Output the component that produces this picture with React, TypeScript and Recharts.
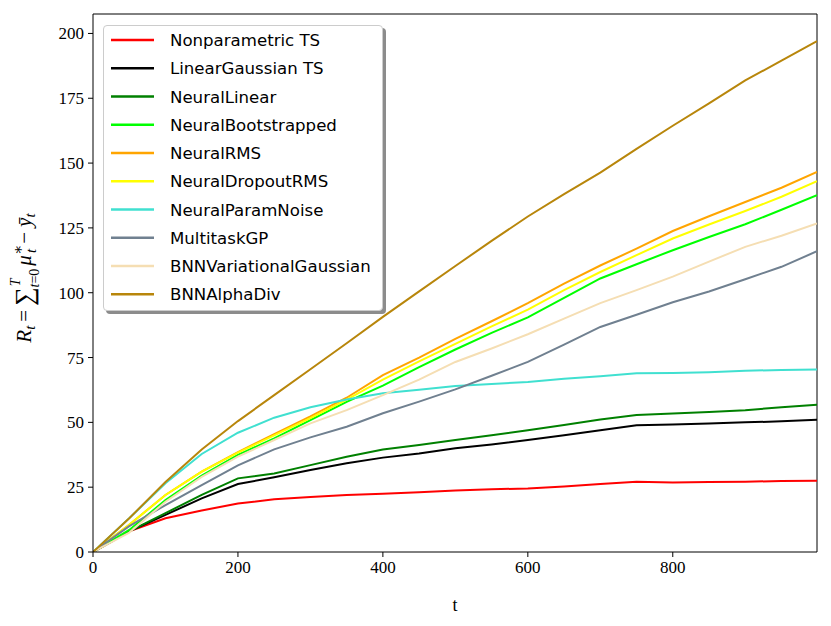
import React from "react";
import {
  LineChart,
  Line,
  XAxis,
  YAxis,
  ReferenceLine,
  Legend,
} from "recharts";

// time steps
const steps = [0, 50, 100, 150, 200, 250, 300, 350, 400, 450, 500, 550, 600, 650, 700, 750, 800, 850, 900, 950, 999];

const nonparametricTs = [0, 8, 13, 16, 18.7, 20.3, 21.2, 22, 22.5, 23, 23.7, 24.2, 24.5, 25.3, 26.2, 27.1, 26.8, 27, 27.1, 27.4, 27.5];
const linearGaussianTs = [0, 8, 14.3, 20.7, 26.2, 28.8, 31.6, 34.2, 36.4, 38, 40, 41.5, 43.2, 45, 47, 48.9, 49.2, 49.6, 50, 50.4, 51];
const neuralLinear = [0, 8, 15, 22, 28.4, 30.3, 33.5, 36.7, 39.5, 41.3, 43.2, 45, 47, 49, 51.1, 52.8, 53.4, 54, 54.7, 55.8, 56.8];
const neuralBootstrapped = [0, 8.5, 20, 29.5, 37.5, 43.8, 50.9, 57.9, 64.2, 71.3, 78.1, 84.5, 90.5, 98, 105.5, 111, 116.4, 121.5, 126.4, 132, 137.6];
const neuralRms = [0, 10.5, 22, 31, 38.5, 45.5, 52.3, 59.5, 68.2, 75, 82.2, 89, 96, 103.5, 110.5, 117, 123.8, 129.5, 135, 140.5, 146.6];
const neuralDropoutRms = [0, 10.5, 22, 31, 38.3, 45, 51.6, 58.8, 66.5, 73.5, 80.3, 87, 93.5, 101, 108, 114.5, 120.9, 126.3, 131.5, 137, 143];
const neuralParamNoise = [0, 13, 26.5, 37.8, 46, 51.8, 55.8, 58.8, 61.2, 62.6, 64, 64.8, 65.6, 66.8, 67.8, 68.9, 69, 69.3, 69.9, 70.2, 70.4];
const multitaskGp = [0, 10, 18.1, 25.8, 33.4, 39.6, 44.2, 48.3, 53.5, 58, 62.7, 68, 73.3, 80, 86.8, 91.5, 96.3, 100.5, 105.2, 110, 116];
const bnnVariationalGaussian = [0, 7.5, 19.4, 29, 36.8, 43.2, 49.6, 54.7, 60.5, 66.5, 73.3, 78.5, 84, 90, 96, 101, 106.2, 112, 117.7, 122, 126.7];
const bnnAlphaDiv = [0, 13, 27, 39.5, 50.5, 60.5, 70.5, 80.5, 90.7, 100.5, 110.3, 120, 129.4, 138, 146.3, 155.5, 164.4, 173, 181.9, 189.5, 197];

const xTicks = [0, 200, 400, 600, 800];
const yTicks = [0, 25, 50, 75, 100, 125, 150, 175, 200];

const series = [
  { key: "np", name: "Nonparametric TS", color: "#ff0000", values: nonparametricTs },
  { key: "lg", name: "LinearGaussian TS", color: "#000000", values: linearGaussianTs },
  { key: "nl", name: "NeuralLinear", color: "#008000", values: neuralLinear },
  { key: "nb", name: "NeuralBootstrapped", color: "#00ff00", values: neuralBootstrapped },
  { key: "rms", name: "NeuralRMS", color: "#ffa500", values: neuralRms },
  { key: "drms", name: "NeuralDropoutRMS", color: "#ffff00", values: neuralDropoutRms },
  { key: "pn", name: "NeuralParamNoise", color: "#40e0d0", values: neuralParamNoise },
  { key: "gp", name: "MultitaskGP", color: "#708090", values: multitaskGp },
  { key: "vg", name: "BNNVariationalGaussian", color: "#f5deb3", values: bnnVariationalGaussian },
  { key: "ad", name: "BNNAlphaDiv", color: "#b8860b", values: bnnAlphaDiv },
];

const rows = steps.map((t, i) => {
  const row: Record<string, number> = { t };
  series.forEach((s) => {
    row[s.key] = s.values[i];
  });
  return row;
});

const serif = "'Liberation Serif', 'DejaVu Serif', serif";
const tickStyle = { fontSize: 17, fill: "#000", fontFamily: serif };

function LegendBox() {
  return (
    <div
      style={{
        width: 280,
        height: 286,
        boxSizing: "border-box",
        background: "#fff",
        border: "1px solid #cccccc",
        borderRadius: 4,
        boxShadow: "3px 3px 0 #8c8c8c",
        paddingTop: 0,
      }}
    >
      <svg width={278} height={284} style={{ display: "block" }}>
        {series.map((s, i) => {
          const y = 14 + i * 28.25;
          return (
            <g key={s.key}>
              <line x1={7} x2={50} y1={y} y2={y} stroke={s.color} strokeWidth={2.6} />
              <text
                x={66}
                y={y + 6}
                fontFamily="'DejaVu Sans', sans-serif"
                fontSize={16.6}
                fill="#000"
              >
                {s.name}
              </text>
            </g>
          );
        })}
      </svg>
    </div>
  );
}

function YLabel() {
  const cx = 31;
  const cy = 278;
  return (
    <text
      transform={`translate(${cx},${cy}) rotate(-90)`}
      textAnchor="middle"
      fontFamily={serif}
      fontSize={21}
      fill="#000"
    >
      <tspan fontStyle="italic">R</tspan>
      <tspan fontSize={15} fontStyle="italic" dy={4}>t</tspan>
      <tspan dy={-4} dx={4}>=</tspan>
      <tspan fontSize={26} dx={4} dy={2}>∑</tspan>
      <tspan fontSize={14} fontStyle="italic" dx={1} dy={-13}>T</tspan>
      <tspan fontSize={14} dx={-9} dy={19}>
        <tspan fontStyle="italic">t</tspan>=0
      </tspan>
      <tspan fontStyle="italic" dx={3} dy={-8}>μ</tspan>
      <tspan fontSize={15} dy={-8}>∗</tspan>
      <tspan fontSize={15} fontStyle="italic" dx={-8} dy={13}>t</tspan>
      <tspan dx={5} dy={-5}>−</tspan>
      <tspan fontStyle="italic" dx={5}>ȳ</tspan>
      <tspan fontSize={15} fontStyle="italic" dy={4}>t</tspan>
    </text>
  );
}

export default function App() {
  return (
    <div style={{ width: 831, height: 626, background: "#fff", position: "relative" }}>
      <style>{`body{margin:0}`}</style>
      <LineChart
        width={831}
        height={626}
        data={rows}
        margin={{ top: 14, right: 14, bottom: 0, left: 0 }}
      >
        <XAxis
          dataKey="t"
          type="number"
          domain={[0, 999]}
          ticks={xTicks}
          tick={tickStyle}
          tickSize={5}
          tickMargin={4}
          stroke="#000"
          height={74}
          allowDataOverflow
          label={{ value: "t", position: "insideBottom", offset: 15, style: { fontFamily: serif, fontSize: 18, fill: "#000" } }}
        />
        <YAxis
          type="number"
          domain={[0, 207.5]}
          ticks={yTicks}
          tick={tickStyle}
          tickSize={5}
          tickMargin={4}
          stroke="#000"
          width={93}
          allowDataOverflow
          label={<YLabel />}
        />
        <ReferenceLine y={207.5} stroke="#000" ifOverflow="extendDomain" />
        <ReferenceLine x={999} stroke="#000" ifOverflow="extendDomain" />
        {series.map((s) => (
          <Line
            key={s.key}
            type="linear"
            dataKey={s.key}
            name={s.name}
            stroke={s.color}
            strokeWidth={2}
            dot={false}
            isAnimationActive={false}
          />
        ))}
        <Legend
          layout="vertical"
          align="center"
          verticalAlign="middle"
          wrapperStyle={{ top: 25, left: 103, width: 280 }}
          content={() => <LegendBox />}
        />
      </LineChart>
    </div>
  );
}
